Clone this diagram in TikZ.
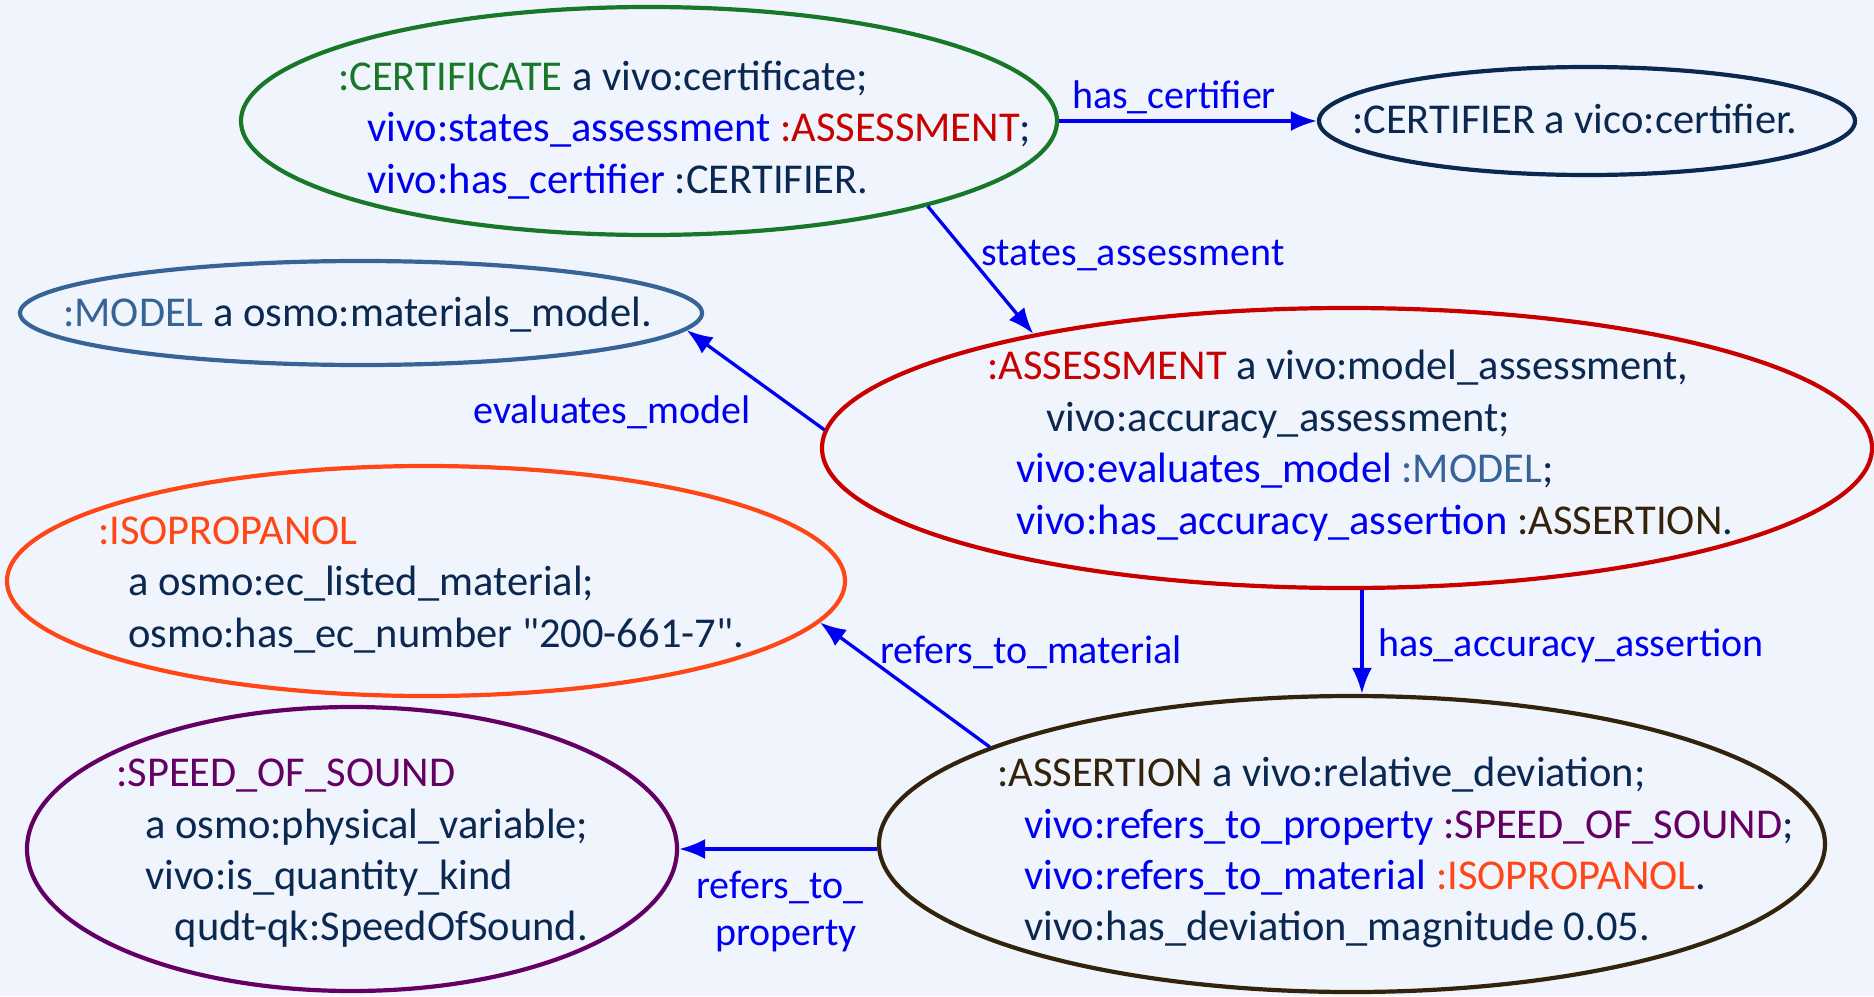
\documentclass[tikz,border=0pt]{standalone}
\usepackage{fontspec}
\setmainfont{Carlito}[Ligatures=TeXOff]
\usetikzlibrary{shapes.geometric,arrows.meta}
\definecolor{bg}{RGB}{240,245,253}
\definecolor{navy}{RGB}{10,40,80}
\definecolor{cgreen}{RGB}{25,120,40}
\definecolor{cblue}{RGB}{0,0,240}
\definecolor{cred}{RGB}{200,0,0}
\definecolor{cmodel}{RGB}{55,100,150}
\definecolor{corange}{RGB}{255,70,20}
\definecolor{cpurple}{RGB}{100,0,100}
\definecolor{cbrown}{RGB}{50,35,10}
\newcommand{\bl}[1]{\textcolor{cblue}{#1}}
\begin{document}
\begin{tikzpicture}[x=1pt,y=-1pt,
  ell/.style={ellipse, draw, line width=4.2pt, inner sep=0pt},
  txt/.style={anchor=base west, inner sep=0pt, text=navy, font=\fontsize{42.5}{51}\selectfont},
  lbl/.style={anchor=base, inner sep=0pt, text=cblue, font=\fontsize{40}{48}\selectfont},
  arr/.style={draw=cblue, line width=3.3pt, -{Latex[length=26pt,width=20pt]}}]
\fill[bg] (0,0) rectangle (1874,996);
\useasboundingbox (0,0) rectangle (1874,996);

% ellipses
\node[ell, draw=cgreen, minimum width=816pt, minimum height=228pt] (cert) at (649,121) {};
\node[ell, draw=navy, minimum width=536pt, minimum height=108pt] (certifier) at (1587,121) {};
\node[ell, draw=cmodel, minimum width=682pt, minimum height=104pt] (model) at (361,313) {};
\node[ell, draw=cred, minimum width=1050pt, minimum height=280pt] (assess) at (1347,448) {};
\node[ell, draw=corange, minimum width=838pt, minimum height=230pt] (iso) at (426,581) {};
\node[ell, draw=cpurple, minimum width=650pt, minimum height=284pt] (speed) at (352,849) {};
\node[ell, draw=cbrown, minimum width=946pt, minimum height=296pt] (assert) at (1352,844) {};

% texts
\node[txt] (cert1) at (338,90) {\textcolor{cgreen}{:CERTIFICATE} a vivo:certificate;};
\node[txt] (cert2) at (367,141.5) {\bl{vivo:states\_assessment} \textcolor{cred}{:ASSESSMENT};};
\node[txt] (cert3) at (367,193) {\bl{vivo:has\_certifier} :CERTIFIER.};

\node[txt] (certifier1) at (1352,133) {:CERTIFIER a vico:certifier.};

\node[txt] (model1) at (63,326.5) {\textcolor{cmodel}{:MODEL} a osmo:materials\_model.};

\node[txt] (assess1) at (987,379) {\textcolor{cred}{:ASSESSMENT} a vivo:model\_assessment,};
\node[txt] (assess2) at (1046,431) {vivo:accuracy\_assessment;};
\node[txt] (assess3) at (1016,482.6) {\bl{vivo:evaluates\_model} \textcolor{cmodel}{:MODEL};};
\node[txt] (assess4) at (1016,534) {\bl{vivo:has\_accuracy\_assertion} \textcolor{cbrown}{:ASSERTION}.};

\node[txt] (iso1) at (98,544) {\textcolor{corange}{:ISOPROPANOL}};
\node[txt] (iso2) at (128,595.5) {a osmo:ec\_listed\_material;};
\node[txt] (iso3) at (128,647) {osmo:has\_ec\_number "200-661-7".};

\node[txt] (speed1) at (116,786.5) {\textcolor{cpurple}{:SPEED\_OF\_SOUND}};
\node[txt] (speed2) at (145,838) {a osmo:physical\_variable;};
\node[txt] (speed3) at (145,889) {vivo:is\_quantity\_kind};
\node[txt] (speed4) at (174.5,940) {qudt-qk:SpeedOfSound.};

\node[txt] (assert1) at (997,786.5) {\textcolor{cbrown}{:ASSERTION} a vivo:relative\_deviation;};
\node[txt] (assert2) at (1024,838) {\bl{vivo:refers\_to\_property} \textcolor{cpurple}{:SPEED\_OF\_SOUND};};
\node[txt] (assert3) at (1024,889) {\bl{vivo:refers\_to\_material} \textcolor{corange}{:ISOPROPANOL}.};
\node[txt] (assert4) at (1024,940) {vivo:has\_deviation\_magnitude 0.05.};

% connectors
\draw[arr] (cert.0) -- (certifier.180);
\draw[arr] (cert.-17) -- (assess.160);
\draw[arr] (assess.178.4) -- (model.-3.9);
\draw[arr] (assess.-84) -- (assess.-84 |- assert.north);
\draw[arr] (assert.165.4) -- (iso.-6.7);
\draw[arr] (assert.west |- speed.east) -- (speed.east);

% labels
\node[lbl] (l1) at (1174,108) {has\_certifier};
\node[lbl] (l2) at (1133,265) {states\_assessment};
\node[lbl] (l3) at (612,423) {evaluates\_model};
\node[lbl] (l4) at (1571,656) {has\_accuracy\_assertion};
\node[lbl] (l5) at (1031,663) {refers\_to\_material};
\node[lbl] (l6) at (780,898) {refers\_to\_};
\node[lbl] (l7) at (786,945) {property};
\end{tikzpicture}
\end{document}
